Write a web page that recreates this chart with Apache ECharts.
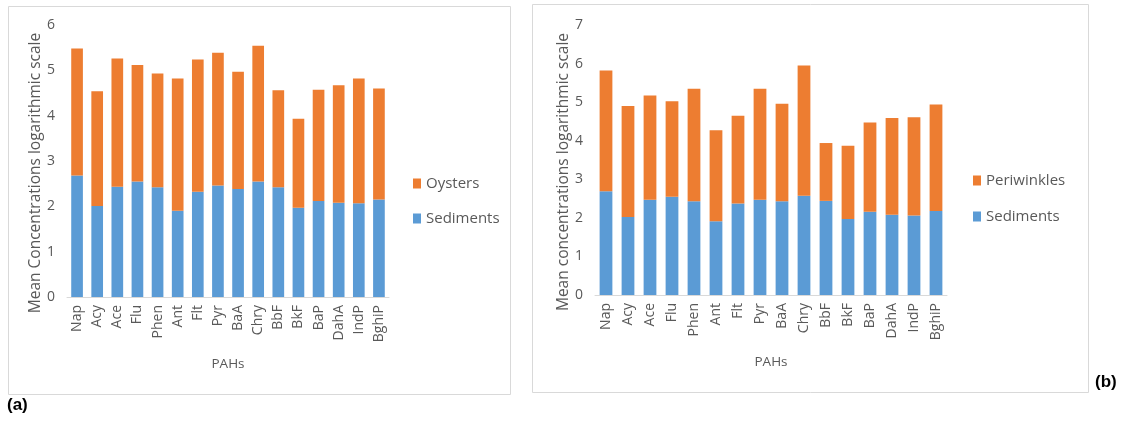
<!DOCTYPE html>
<html>
<head>
<meta charset="utf-8">
<script src="https://cdn.jsdelivr.net/npm/echarts@6/dist/echarts.min.js"></script>
<style>
  html, body { margin: 0; padding: 0; background: #fff; }
  #chart { width: 1123px; height: 429px; }
</style>
</head>
<body>
<div id="chart"></div>
<script>
// PAH compounds on the x axis
const pahs = ['Nap', 'Acy', 'Ace', 'Flu', 'Phen', 'Ant', 'Flt', 'Pyr', 'BaA', 'Chry', 'BbF', 'BkF', 'BaP', 'DahA', 'IndP', 'BghiP'];

// (a) sediments and oysters, log mean concentrations (stacked)
const sedimentsA = [2.68, 2.01, 2.43, 2.55, 2.42, 1.90, 2.32, 2.46, 2.38, 2.55, 2.42, 1.97, 2.12, 2.08, 2.07, 2.15];
const oystersA   = [2.80, 2.53, 2.83, 2.57, 2.51, 2.92, 2.92, 2.93, 2.59, 2.99, 2.14, 1.96, 2.45, 2.59, 2.75, 2.45];

// (b) sediments and periwinkles, log mean concentrations (stacked)
const sedimentsB  = [2.69, 2.02, 2.47, 2.55, 2.43, 1.91, 2.37, 2.47, 2.43, 2.57, 2.44, 1.97, 2.16, 2.08, 2.06, 2.18];
const periwinklesB = [3.13, 2.88, 2.70, 2.47, 2.92, 2.36, 2.28, 2.88, 2.53, 3.38, 1.50, 1.90, 2.31, 2.51, 2.55, 2.76];

const yTicksA = { min: 0, max: 6, interval: 1 };
const yTicksB = { min: 0, max: 7, interval: 1 };

const BLUE = '#5B9BD5';
const ORANGE = '#ED7D31';
const FONT = '"Open Sans", "Noto Sans", sans-serif';
const GREY = '#595959';

function xAxisFor(gridIndex) {
  return {
    type: 'category', gridIndex, data: pahs,
    axisLine: { lineStyle: { color: '#d9d9d9', width: 1 } },
    axisTick: { show: false },
    axisLabel: { rotate: 90, color: GREY, fontFamily: FONT, fontSize: 14, margin: 8 },
    name: 'PAHs', nameLocation: 'middle', nameGap: 60,
    nameTextStyle: { color: GREY, fontFamily: FONT, fontSize: 13.5 }
  };
}

function yAxisFor(gridIndex, ticks, title) {
  return {
    type: 'value', gridIndex, min: ticks.min, max: ticks.max, interval: ticks.interval,
    axisLine: { show: false }, axisTick: { show: false },
    splitLine: { show: false },
    axisLabel: { color: GREY, fontFamily: FONT, fontSize: 14, margin: 12 },
    name: title, nameLocation: 'middle', nameGap: 22, nameRotate: 90,
    nameTextStyle: { color: GREY, fontFamily: FONT, fontSize: 15.5, padding: [0, 24, 0, 0] }
  };
}

function bar(name, data, color, xi, stack) {
  return {
    name, type: 'bar', stack, data, xAxisIndex: xi, yAxisIndex: xi,
    barWidth: '58%', itemStyle: { color }, emphasis: { disabled: true }
  };
}

const legendText = { color: GREY, fontFamily: FONT, fontSize: 15 };

const option = {
  animation: false,
  backgroundColor: '#fff',
  grid: [
    { left: 67, right: 734, top: 25, bottom: 132 },
    { left: 595, right: 176, top: 25, bottom: 134 }
  ],
  xAxis: [xAxisFor(0), xAxisFor(1)],
  yAxis: [
    yAxisFor(0, yTicksA, 'Mean Concentrations logarithmic scale'),
    yAxisFor(1, yTicksB, 'Mean concentrations logarithmic scale')
  ],
  legend: [
    { data: ['Oysters', 'Sediments'], orient: 'vertical', left: 413, top: 176, padding: 0,
      itemWidth: 8, itemHeight: 10, itemGap: 20, textStyle: legendText,
      icon: 'rect', selectedMode: false },
    { data: ['Periwinkles', 'Sediments '], orient: 'vertical', left: 973, top: 173, padding: 0,
      itemWidth: 8, itemHeight: 10, itemGap: 21, textStyle: legendText,
      icon: 'rect', selectedMode: false }
  ],
  series: [
    bar('Sediments', sedimentsA, BLUE, 0, 'a'),
    bar('Oysters', oystersA, ORANGE, 0, 'a'),
    bar('Sediments ', sedimentsB, BLUE, 1, 'b'),
    bar('Periwinkles', periwinklesB, ORANGE, 1, 'b')
  ],
  graphic: [
    { type: 'rect', shape: { x: 8.5, y: 6.5, width: 502, height: 388 },
      style: { fill: null, stroke: '#d9d9d9', lineWidth: 1 }, silent: true },
    { type: 'rect', shape: { x: 532.5, y: 4.5, width: 556, height: 388 },
      style: { fill: null, stroke: '#d9d9d9', lineWidth: 1 }, silent: true },
    { type: 'text', left: 7, top: 397,
      style: { text: '(a)', fill: '#000', font: 'bold 17px "Liberation Sans", Arial, sans-serif' } },
    { type: 'text', left: 1095, top: 374,
      style: { text: '(b)', fill: '#000', font: 'bold 17px "Liberation Sans", Arial, sans-serif' } }
  ]
};

echarts.init(document.getElementById('chart'), null, { renderer: 'canvas' }).setOption(option);
</script>
</body>
</html>
